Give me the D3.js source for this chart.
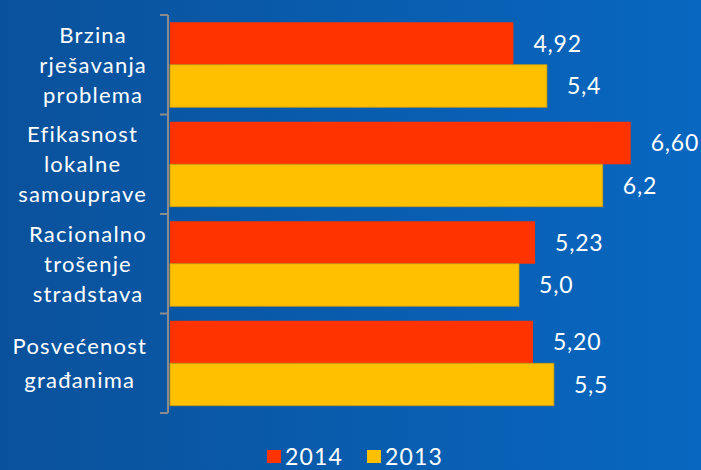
<!DOCTYPE html>
<html>
<head>
<meta charset="utf-8">
<script src="https://cdn.jsdelivr.net/npm/d3@7"></script>
<style>
  body { margin: 0; }
  text { font-family: Lato, "Noto Sans", sans-serif; fill: #fff; }
</style>
</head>
<body>
<div id="chart"></div>
<script>
var categories = [
  ["Brzina", "rješavanja", "problema"],
  ["Efikasnost", "lokalne", "samouprave"],
  ["Racionalno", "trošenje", "stradstava"],
  ["Posvećenost", "građanima"]
];
var series = ["2014", "2013"];
var values2014 = [4.92, 6.60, 5.23, 5.20];
var values2013 = [5.4, 6.2, 5.0, 5.5];
var colors = ["#ff3300", "#ffc000"];

var width = 701, height = 470;

var svg = d3.select('#chart')
  .append('svg')
  .attr('width', width)
  .attr('height', height);

// background gradient
var grad = svg.append('defs').append('linearGradient')
  .attr('id', 'bg')
  .attr('x1', 0).attr('x2', 1).attr('y1', 0).attr('y2', 0);
grad.append('stop').attr('offset', '0%').attr('stop-color', '#0a519b');
grad.append('stop').attr('offset', '100%').attr('stop-color', '#0867c0');
svg.append('rect').attr('width', width).attr('height', height).attr('fill', 'url(#bg)');

var comma = d3.formatLocale({decimal: ",", thousands: ".", grouping: [3], currency: ["", ""]});
var fmts = [comma.format(".2f"), comma.format(".1f")];

var x = d3.scaleLinear().domain([0, 7]).range([170, 170 + 7 * 69.8]);

var y = d3.scaleBand()
  .domain(d3.range(categories.length))
  .range([15, 413])
  .paddingInner(0.146)
  .paddingOuter(0.073);

var ySeries = d3.scaleBand().domain(d3.range(series.length)).range([0, y.bandwidth()]);

var rows = categories.map(function(c, i) {
  return {lines: c, vals: [values2014[i], values2013[i]]};
});

var g = svg.append('g');

var groups = g.selectAll('.grp')
  .data(rows)
  .enter()
  .append('g')
  .attr('class', 'grp')
  .attr('transform', function(d, i) { return 'translate(0,' + y(i) + ')'; });

groups.selectAll('rect')
  .data(function(d) { return d.vals; })
  .enter()
  .append('rect')
  .attr('x', x(0))
  .attr('y', function(d, j) { return ySeries(j); })
  .attr('width', function(d) { return x(d) - x(0); })
  .attr('height', ySeries.bandwidth())
  .attr('fill', function(d, j) { return colors[j]; })
  .attr('stroke', function(d, j) { return j == 1 ? '#c99a10' : 'none'; })
  .attr('stroke-width', 0.8);

groups.selectAll('.val')
  .data(function(d) { return d.vals; })
  .enter()
  .append('text')
  .attr('class', 'val')
  .attr('x', function(d) { return x(d) + 20; })
  .attr('y', function(d, j) { return ySeries(j) + ySeries.bandwidth() / 2; })
  .attr('dy', '0.36em')
  .style('font-size', '23px')
  .style('letter-spacing', '0.8px')
  .text(function(d, j) { return fmts[j](d); });

// axis line and ticks at band boundaries
var step = y.step();
g.append('line')
  .attr('x1', 168).attr('x2', 168)
  .attr('y1', 15).attr('y2', 15 + step * categories.length)
  .attr('stroke', '#8c8c8c').attr('stroke-width', 2);
g.selectAll('.tick')
  .data(d3.range(categories.length + 1))
  .enter()
  .append('line')
  .attr('x1', 160).attr('x2', 168)
  .attr('y1', function(i) { return 15 + i * step; })
  .attr('y2', function(i) { return 15 + i * step; })
  .attr('stroke', '#8c8c8c').attr('stroke-width', 2);

// category labels, lines centred in a right-aligned block
var lineH = 30;
groups.each(function(d, i) {
  var grp = d3.select(this);
  var n = d.lines.length;
  var cy = y.bandwidth() / 2;
  var texts = grp.selectAll('.cat')
    .data(d.lines)
    .enter()
    .append('text')
    .attr('class', 'cat')
    .attr('text-anchor', 'middle')
    .style('font-size', '22px')
    .style('letter-spacing', '1.2px')
    .attr('y', function(l, k) { return cy + 8 + (k - (n - 1) / 2) * (n == 2 ? 34 : lineH); })
    .text(function(l) { return l; });
  var maxW = 0;
  texts.each(function() { maxW = Math.max(maxW, this.getComputedTextLength()); });
  texts.attr('x', 147 - maxW / 2);
});

// legend
var legend = svg.append('g');
var legX = [267, 367];
series.forEach(function(s, j) {
  legend.append('rect')
    .attr('x', legX[j]).attr('y', 450)
    .attr('width', 14).attr('height', 13)
    .attr('fill', colors[j]);
  legend.append('text')
    .attr('x', legX[j] + 18).attr('y', 465)
    .style('font-size', '23px')
    .style('letter-spacing', '1.2px')
    .text(s);
});
</script>
</body>
</html>
